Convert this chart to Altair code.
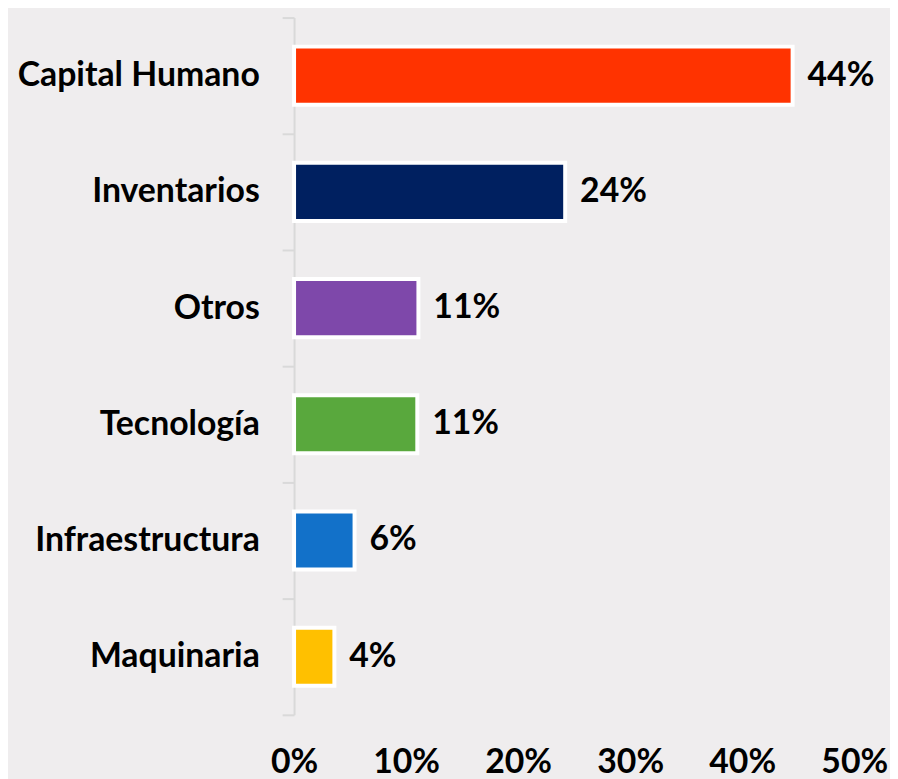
import altair as alt
import pandas as pd

categories = ["Capital Humano", "Inventarios", "Otros", "Tecnología", "Infraestructura", "Maquinaria"]
values = [0.445, 0.242, 0.111, 0.110, 0.054, 0.036]
labels = ["44%", "24%", "11%", "11%", "6%", "4%"]
colors = ["#FF3300", "#002060", "#7E48AA", "#59A83D", "#1271C9", "#FFC000"]

df = pd.DataFrame({"cat": categories, "val": values, "lab": labels})

FONT = "Lato"
FS = 34

y = alt.Y("cat:N", sort=categories, title=None,
          scale=alt.Scale(paddingInner=0, paddingOuter=0),
          axis=alt.Axis(tickBand="extent", domainColor="#D9D9D9", domainWidth=2,
                        tickColor="#D9D9D9", tickWidth=2, tickSize=12,
                        labelFont=FONT, labelFontSize=FS, labelFontWeight="bold",
                        labelColor="#000000", labelPadding=23, labelLimit=400))

x = alt.X("val:Q", title=None,
          scale=alt.Scale(domain=[0, 0.5], nice=False),
          axis=alt.Axis(format=".0%", values=[0, 0.1, 0.2, 0.3, 0.4, 0.5],
                        domain=False, ticks=False, grid=False,
                        labelFont=FONT, labelFontSize=FS, labelFontWeight="bold",
                        labelColor="#000000", labelPadding=31, labelFlush=False))

bars = alt.Chart(df).mark_bar(height={"band": 0.5}, stroke="white", strokeWidth=4).encode(
    x=x, y=y,
    color=alt.Color("cat:N", scale=alt.Scale(domain=categories, range=colors), legend=None),
)

text = alt.Chart(df).mark_text(align="left", baseline="middle", dx=15,
                               font=FONT, fontSize=FS, fontWeight="bold", color="#000000").encode(
    x="val:Q", y=alt.Y("cat:N", sort=categories), text="lab:N")

chart = (bars + text).properties(
    width=564, height=702,
    autosize=alt.AutoSizeParams(type="none"),
    padding={"left": 288, "top": 7, "right": 36, "bottom": 66},
    background="#EFEDEE",
).configure_view(stroke=None)

chart.save("out.html", embed_options={"renderer": "svg", "actions": False})
